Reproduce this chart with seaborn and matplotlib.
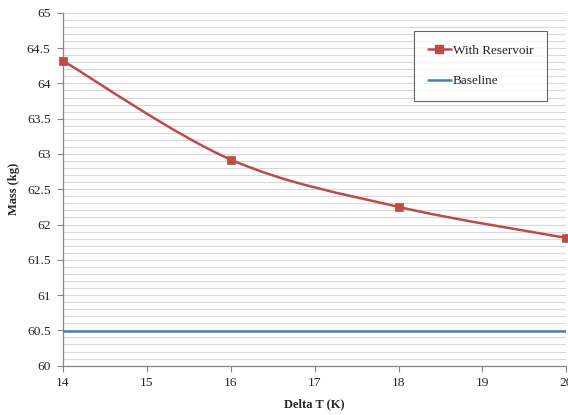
import numpy as np
import matplotlib
matplotlib.use("Agg")
import matplotlib.pyplot as plt
import seaborn as sns
from matplotlib.path import Path
from matplotlib.patches import PathPatch
from matplotlib.lines import Line2D

# Data
delta_t = [14, 16, 18, 20]
mass_reservoir = [64.32, 62.92, 62.25, 61.81]
baseline_mass = 60.49

red = "#BE4B48"
blue = "#4A7EBB"

sns.set_style("white")
plt.rcParams["font.family"] = ["Liberation Serif", "DejaVu Serif"]

fig = plt.figure(figsize=(5.68, 4.15), dpi=100)
ax = fig.add_axes([0.111, 0.119, 0.886, 0.850])

# smoothed line (Catmull-Rom style bezier through the points, like Excel)
x = np.array(delta_t, dtype=float)
y = np.array(mass_reservoir, dtype=float)
verts = [(x[0], y[0])]
codes = [Path.MOVETO]
for i in range(len(x) - 1):
    p0 = (x[i - 1], y[i - 1]) if i > 0 else (x[i], y[i])
    p3 = (x[i + 2], y[i + 2]) if i + 2 < len(x) else (x[i + 1], y[i + 1])
    c1 = (x[i] + (x[i + 1] - p0[0]) / 6, y[i] + (y[i + 1] - p0[1]) / 6)
    c2 = (x[i + 1] - (p3[0] - x[i]) / 6, y[i + 1] - (p3[1] - y[i]) / 6)
    verts += [c1, c2, (x[i + 1], y[i + 1])]
    codes += [Path.CURVE4] * 3
ax.add_patch(PathPatch(Path(verts, codes), facecolor="none", edgecolor=red, lw=1.8, zorder=3))

sns.scatterplot(x=delta_t, y=mass_reservoir, marker="s", s=40, color=red,
                edgecolor=red, ax=ax, zorder=4, clip_on=False)
ax.axhline(baseline_mass, color=blue, lw=1.8, zorder=3)

ax.set_xlim(14, 20)
ax.set_ylim(60, 65)
ax.set_xticks(range(14, 21))
ax.set_yticks(np.arange(60, 65.01, 0.5))
ax.set_yticklabels(["60", "60.5", "61", "61.5", "62", "62.5", "63", "63.5", "64", "64.5", "65"])
ax.set_yticks(np.arange(60, 65.01, 0.1), minor=True)
ax.grid(True, which="both", axis="y", color="#D9D9D9", lw=0.9)
ax.grid(False, axis="x")
ax.set_axisbelow(True)

for s in ["top", "right"]:
    ax.spines[s].set_visible(False)
for s in ["left", "bottom"]:
    ax.spines[s].set_color("#868686")
    ax.spines[s].set_linewidth(0.9)
ax.tick_params(axis="both", which="major", direction="out", length=4, color="#868686",
               labelsize=9.7, left=True, bottom=True)
ax.tick_params(axis="y", which="major", pad=5)
ax.tick_params(axis="x", which="major", pad=4)
ax.tick_params(axis="y", which="minor", length=0)

ax.set_xlabel("Delta T (K)", fontsize=9, fontweight="bold", labelpad=7)
ax.set_ylabel("Mass (kg)", fontsize=9, fontweight="bold", labelpad=5)

handles = [Line2D([], [], color=red, lw=1.8, marker="s", markersize=6),
           Line2D([], [], color=blue, lw=1.8)]
leg = ax.legend(handles, ["With Reservoir", "Baseline"], loc="upper left",
                bbox_to_anchor=(0.698, 0.95), frameon=True, fancybox=False,
                fontsize=9.5, handlelength=1.7, handletextpad=0.15,
                labelspacing=1.4, borderpad=1.05, borderaxespad=0)
leg.get_frame().set_edgecolor("#404040")
leg.get_frame().set_linewidth(0.8)

fig.savefig("out.png", dpi=100)
